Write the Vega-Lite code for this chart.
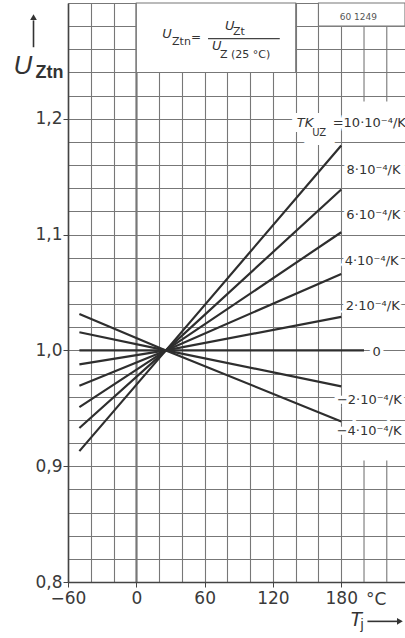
{
  "$schema": "https://vega.github.io/schema/vega-lite/v6.json",
  "width": 337,
  "height": 579,
  "autosize": {"type": "none"},
  "padding": {"left": 68, "top": 3, "right": 0, "bottom": 56},
  "background": "white",
  "view": {"stroke": null},
  "config": {"text": {"font": "DejaVu Sans"}},
  "datasets": {
    "curves": [
      {"tk": 10, "t": -50, "u": 0.913}, {"tk": 10, "t": 26, "u": 1.0}, {"tk": 10, "t": 180, "u": 1.177},
      {"tk": 8, "t": -50, "u": 0.933}, {"tk": 8, "t": 26, "u": 1.0}, {"tk": 8, "t": 180, "u": 1.139},
      {"tk": 6, "t": -50, "u": 0.951}, {"tk": 6, "t": 26, "u": 1.0}, {"tk": 6, "t": 180, "u": 1.102},
      {"tk": 4, "t": -50, "u": 0.9695}, {"tk": 4, "t": 26, "u": 1.0}, {"tk": 4, "t": 180, "u": 1.066},
      {"tk": 2, "t": -50, "u": 0.988}, {"tk": 2, "t": 26, "u": 1.0}, {"tk": 2, "t": 180, "u": 1.029},
      {"tk": 0, "t": -50, "u": 1.0}, {"tk": 0, "t": 26, "u": 1.0}, {"tk": 0, "t": 200, "u": 1.0},
      {"tk": -2, "t": -50, "u": 1.0157}, {"tk": -2, "t": 26, "u": 1.0}, {"tk": -2, "t": 180, "u": 0.969},
      {"tk": -4, "t": -50, "u": 1.0314}, {"tk": -4, "t": 26, "u": 1.0}, {"tk": -4, "t": 180, "u": 0.9386}
    ],
    "clabels": [
      {"text": "=10·10⁻⁴/K", "t": 172.5, "u": 1.196},
      {"text": "8·10⁻⁴/K", "t": 184.7, "u": 1.156},
      {"text": "6·10⁻⁴/K", "t": 184.5, "u": 1.117},
      {"text": "4·10⁻⁴/K", "t": 183, "u": 1.077},
      {"text": "2·10⁻⁴/K", "t": 184, "u": 1.038},
      {"text": "0", "t": 207.5, "u": 0.999},
      {"text": "−2·10⁻⁴/K", "t": 176.2, "u": 0.957},
      {"text": "−4·10⁻⁴/K", "t": 176, "u": 0.93}
    ],
    "tkit": [{"text": "TK", "t": 140.9, "u": 1.196}],
    "tksub": [{"text": "UZ", "t": 154.5, "u": 1.188}]
  },
  "encoding": {
    "x": {
      "field": "t", "type": "quantitative",
      "scale": {"domain": [-60, 236], "nice": false, "zero": false},
      "axis": {
        "title": null,
        "values": [-60, -40, -20, 0, 20, 40, 60, 80, 100, 120, 140, 160, 180],
        "grid": true,
        "gridColor": "#777777",
        "gridWidth": {"condition": {"test": "datum.value === 0", "value": 2.2}, "value": 1.1},
        "labelExpr": "datum.value === -60 ? '−60\u00a0\u00a0\u00a0\u00a0' : (datum.value % 60 === 0 ? datum.label : '')",
        "labelFont": "DejaVu Sans",
        "labelFontSize": 17,
        "labelColor": "#3a3a3a",
        "labelFlush": false,
        "labelOverlap": false,
        "labelPadding": 3,
        "tickSize": 5,
        "tickColor": {"condition": {"test": "datum.value % 60 === 0", "value": "#444444"}, "value": "transparent"},
        "domainColor": "#444444",
        "domainWidth": 1.6
      }
    },
    "y": {
      "field": "u", "type": "quantitative",
      "scale": {"domain": [0.8, 1.3], "nice": false, "zero": false},
      "axis": {
        "title": null,
        "values": [0.8, 0.82, 0.84, 0.86, 0.88, 0.9, 0.92, 0.94, 0.96, 0.98, 1, 1.02, 1.04, 1.06, 1.08, 1.1, 1.12, 1.14, 1.16, 1.18, 1.2, 1.22, 1.24, 1.26, 1.28, 1.3],
        "grid": true,
        "gridColor": "#777777",
        "gridWidth": 1.1,
        "labelExpr": "indexof([0.8, 0.9, 1, 1.1, 1.2], datum.value) >= 0 ? replace(format(datum.value, '.1f'), '.', ',') : ''",
        "labelFont": "DejaVu Sans",
        "labelFontSize": 17,
        "labelColor": "#3a3a3a",
        "labelFlush": false,
        "labelOverlap": false,
        "labelPadding": 1,
        "tickSize": 5,
        "tickColor": {"condition": {"test": "indexof([0.8, 0.9, 1, 1.1, 1.2], datum.value) >= 0", "value": "#444444"}, "value": "transparent"},
        "domainColor": "#444444",
        "domainWidth": 1.6
      }
    }
  },
  "layer": [
    {
      "data": {"values": [
        {"t": 200, "u": 1.215, "u2": 1.3}, {"t": 220, "u": 1.215, "u2": 1.3},
        {"t": 200, "u": 0.8, "u2": 0.905}, {"t": 220, "u": 0.8, "u2": 0.905}
      ]},
      "mark": {"type": "rule", "color": "#777777", "strokeWidth": 1.1},
      "encoding": {"y2": {"field": "u2"}}
    },
    {
      "data": {"values": [
        {"t": 0, "t2": 140, "u": 1.24, "u2": 1.3},
        {"t": 160, "t2": 236, "u": 1.28, "u2": 1.3}
      ]},
      "mark": {"type": "rect", "fill": "white", "stroke": "#777777", "strokeWidth": 1.1},
      "encoding": {"x2": {"field": "t2"}, "y2": {"field": "u2"}}
    },
    {
      "data": {"name": "clabels"},
      "mark": {"type": "text", "align": "left", "baseline": "middle", "fontSize": 13, "fill": "white", "stroke": "white", "strokeWidth": 7},
      "encoding": {"text": {"field": "text"}}
    },
    {
      "data": {"name": "tkit"},
      "mark": {"type": "text", "align": "left", "baseline": "middle", "fontSize": 13, "fontStyle": "italic", "fill": "white", "stroke": "white", "strokeWidth": 10},
      "encoding": {"text": {"field": "text"}}
    },
    {
      "data": {"name": "tksub"},
      "mark": {"type": "text", "align": "left", "baseline": "middle", "fontSize": 10, "fill": "white", "stroke": "white", "strokeWidth": 18},
      "encoding": {"text": {"field": "text"}}
    },
    {
      "data": {"name": "curves"},
      "mark": {"type": "line", "color": "#2e2e2e", "strokeWidth": 2.2},
      "encoding": {"detail": {"field": "tk", "type": "nominal"}}
    },
    {
      "data": {"name": "clabels"},
      "mark": {"type": "text", "align": "left", "baseline": "middle", "fontSize": 13, "color": "#333333"},
      "encoding": {"text": {"field": "text"}}
    },
    {
      "data": {"name": "tkit"},
      "mark": {"type": "text", "align": "left", "baseline": "middle", "fontSize": 13, "fontStyle": "italic", "color": "#333333"},
      "encoding": {"text": {"field": "text"}}
    },
    {
      "data": {"name": "tksub"},
      "mark": {"type": "text", "align": "left", "baseline": "middle", "fontSize": 10, "color": "#333333"},
      "encoding": {"text": {"field": "text"}}
    },
    {
      "data": {"values": [
        {"text": "U", "t": 22.7, "u": 1.2696},
        {"text": "U", "t": 77.9, "u": 1.2765},
        {"text": "U", "t": 66.5, "u": 1.2593}
      ]},
      "mark": {"type": "text", "align": "left", "baseline": "alphabetic", "fontSize": 13, "fontStyle": "italic", "color": "#333333"},
      "encoding": {"text": {"field": "text"}}
    },
    {
      "data": {"values": [
        {"text": "Ztn", "t": 31.4, "u": 1.2636},
        {"text": "Zt", "t": 84.9, "u": 1.2722},
        {"text": "Z (25 °C)", "t": 73.5, "u": 1.2524}
      ]},
      "mark": {"type": "text", "align": "left", "baseline": "alphabetic", "fontSize": 11, "color": "#333333"},
      "encoding": {"text": {"field": "text"}}
    },
    {
      "data": {"values": [{"text": "=", "t": 48, "u": 1.267}]},
      "mark": {"type": "text", "align": "left", "baseline": "alphabetic", "fontSize": 12, "color": "#333333"},
      "encoding": {"text": {"field": "text"}}
    },
    {
      "data": {"values": [{"t": 63, "t2": 126, "u": 1.2692}]},
      "mark": {"type": "rule", "color": "#444444", "strokeWidth": 1.2},
      "encoding": {"x2": {"field": "t2"}}
    },
    {
      "data": {"values": [{"text": "60 1249", "t": 178.7, "u": 1.2852}]},
      "mark": {"type": "text", "align": "left", "baseline": "alphabetic", "fontSize": 9, "color": "#555555"},
      "encoding": {"text": {"field": "text"}}
    },
    {
      "data": {"values": [{"text": "U", "t": -107.8, "u": 1.2385}]},
      "mark": {"type": "text", "align": "left", "baseline": "alphabetic", "font": "Liberation Sans", "fontSize": 26, "fontStyle": "italic", "color": "#333333"},
      "encoding": {"text": {"field": "text"}}
    },
    {
      "data": {"values": [{"text": "Ztn", "t": -88.6, "u": 1.2351}]},
      "mark": {"type": "text", "align": "left", "baseline": "alphabetic", "font": "Liberation Sans", "fontSize": 18, "fontWeight": "bold", "color": "#333333"},
      "encoding": {"text": {"field": "text"}}
    },
    {
      "data": {"values": [{"t": -90.3, "u": 1.2618, "u2": 1.285}]},
      "mark": {"type": "rule", "color": "#333333", "strokeWidth": 1.6},
      "encoding": {"y2": {"field": "u2"}}
    },
    {
      "data": {"values": [{"t": -90.3, "u": 1.2878}]},
      "mark": {"type": "point", "shape": "triangle-up", "filled": true, "color": "#333333", "size": 45, "opacity": 1}
    },
    {
      "data": {"values": [{"text": "T", "t": 187.4, "u": 0.7616}]},
      "mark": {"type": "text", "align": "left", "baseline": "alphabetic", "font": "Liberation Sans", "fontSize": 20, "fontStyle": "italic", "color": "#333333"},
      "encoding": {"text": {"field": "text"}}
    },
    {
      "data": {"values": [{"text": "j", "t": 197, "u": 0.759}]},
      "mark": {"type": "text", "align": "left", "baseline": "alphabetic", "font": "Liberation Sans", "fontSize": 14, "color": "#333333"},
      "encoding": {"text": {"field": "text"}}
    },
    {
      "data": {"values": [{"t": 203, "t2": 230, "u": 0.766}]},
      "mark": {"type": "rule", "color": "#333333", "strokeWidth": 1.6},
      "encoding": {"x2": {"field": "t2"}}
    },
    {
      "data": {"values": [{"t": 231.5, "u": 0.766}]},
      "mark": {"type": "point", "shape": "triangle-right", "filled": true, "color": "#333333", "size": 45, "opacity": 1}
    },
    {
      "data": {"values": [{"text": "°C", "t": 210.6, "u": 0.7805}]},
      "mark": {"type": "text", "align": "center", "baseline": "alphabetic", "fontSize": 17, "color": "#3a3a3a"},
      "encoding": {"text": {"field": "text"}}
    }
  ]
}
